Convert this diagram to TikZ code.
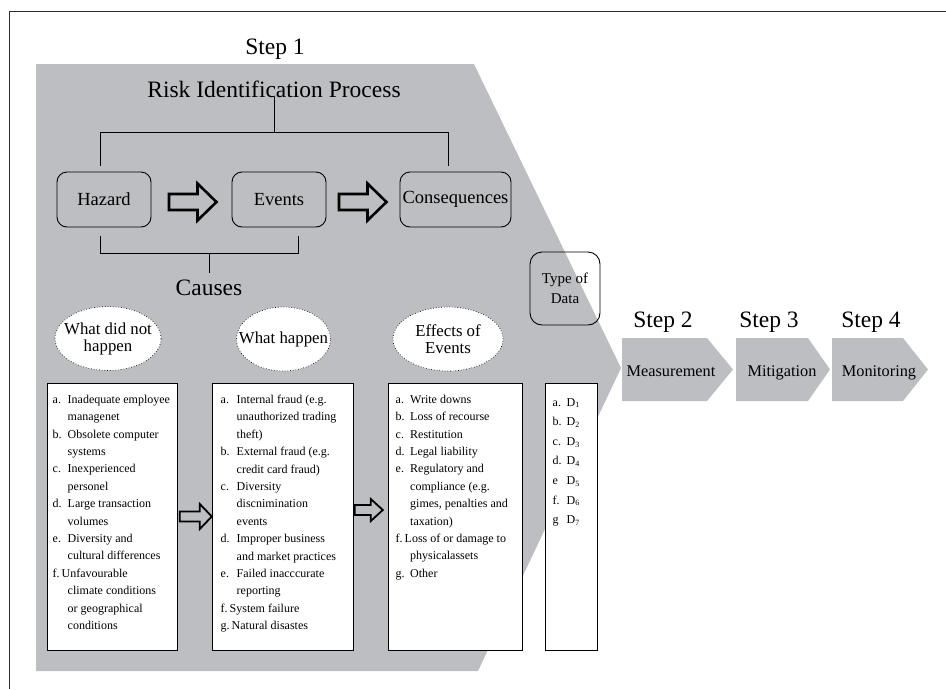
\documentclass[tikz,border=0pt]{standalone}
\usepackage{fontspec}
\setmainfont{Liberation Serif}
\usetikzlibrary{shapes.geometric,calc}
\definecolor{chevgray}{RGB}{188,190,193}
\definecolor{framegray}{RGB}{45,45,45}
\newcommand{\lab}[2]{\makebox[#1][l]{#2}}
\newcommand{\ind}[1]{\hspace*{#1}}
\begin{document}
\begin{tikzpicture}[x=1pt,y=-1pt,
  big/.style={font=\fontsize{23.5}{28}\selectfont, inner sep=0pt},
  rbox/.style={draw, rounded corners=10pt, line width=0.9pt, minimum width=94pt, minimum height=55pt, inner sep=0pt, font=\fontsize{18.5}{22}\selectfont},
  ell/.style={ellipse, draw, dotted, line width=0.7pt, fill=white, minimum width=#1, minimum height=64pt, inner sep=0pt},
  elltext/.style={align=center, inner sep=0pt, font=\fontsize{16.8}{17}\selectfont},
  lbox/.style={draw, line width=0.8pt, fill=white, anchor=north west, inner sep=0pt, minimum height=267pt},
  ltext/.style={align=left, anchor=north west, inner sep=0pt, font=\fontsize{12}{17.4}\selectfont},
  conn/.style={draw, line width=0.9pt},
  bigarr/.style={draw, line width=2.6pt, line join=miter},
  sarr/.style={draw, line width=1.8pt, line join=miter},
  steplab/.style={font=\fontsize{16.3}{20}\selectfont, inner sep=0pt, anchor=base}
]
\useasboundingbox (0,0) rectangle (946,689);
% main chevron (step 1)
\fill[chevgray] (36,64) -- (474,64) -- (621,368) -- (478,671) -- (36,671) -- cycle;
% frame
\draw[framegray, line width=0.8pt] (946,11) -- (9,11) -- (9,689);
% step 2-4 chevrons
\fill[chevgray] (622,338) -- (707,338) -- (733,369.5) -- (707,401) -- (622,401) -- cycle;
\fill[chevgray] (736,338) -- (808,338) -- (830,369.5) -- (808,401) -- (736,401) -- cycle;
\fill[chevgray] (832,338) -- (903,338) -- (928,369.5) -- (903,401) -- (832,401) -- cycle;

% titles
\node[big, anchor=base] (step1) at (275,54) {Step 1};
\node[big, anchor=base] (title) at (274,97) {Risk Identification Process};
\node[big, anchor=base] (step2) at (663,327) {Step 2};
\node[big, anchor=base] (step3) at (769,327) {Step 3};
\node[big, anchor=base] (step4) at (871,327) {Step 4};
\node[steplab] (meas) at (671,376) {Measurement};
\node[steplab] (miti) at (782,376) {Mitigation};
\node[steplab] (moni) at (879,376) {Monitoring};

% process boxes
\node[rbox] (hazard) at (104,199.5) {Hazard};
\node[rbox] (events) at (279,199.5) {Events};
\node[rbox, minimum width=111pt] (cons) at (455.5,199.5) {Consequences};

% tree above
\coordinate (brk) at (276,132);
\coordinate (hz) at ([xshift=-4pt,yshift=6pt]hazard.north);
\coordinate (cs) at ([xshift=-7.5pt,yshift=6pt]cons.north);
\draw[conn] (title.south) -- (title.south |- brk);
\draw[conn] (hz) -- (hz |- brk) -- (cs |- brk) -- (cs);

% causes bracket
\node[big, anchor=base] (causes) at (209,295) {Causes};
\coordinate (hzb) at ([xshift=-4pt,yshift=-9pt]hazard.south);
\coordinate (evb) at ([xshift=19pt,yshift=-9pt]events.south);
\coordinate (cbr) at (causes.north |- 0,253);
\draw[conn] (hzb) -- (hzb |- cbr) -- (evb |- cbr) -- (evb);
\draw[conn] (cbr) -- ([yshift=6pt]causes.north);

% big block arrows
\coordinate (ar1) at ($(hazard.east)+(17.5,2.5)$);
\draw[bigarr] (ar1) ++(0,-8) -- ++(28.5,0) -- ++(0,-10.5) -- ++(19,18.5) -- ++(-19,18.5) -- ++(0,-10.5) -- ++(-28.5,0) -- cycle;
\coordinate (ar2) at ($(events.east)+(12.5,2.5)$);
\draw[bigarr] (ar2) ++(0,-8) -- ++(28.5,0) -- ++(0,-10.5) -- ++(19,18.5) -- ++(-19,18.5) -- ++(0,-10.5) -- ++(-28.5,0) -- cycle;

% ellipses
\node[ell=106pt] (e1) at (108,338.5) {};
\node[elltext] (e1t) at (e1.center) {What did not\\happen};
\node[ell=94pt] (e2) at (283.5,339) {};
\node[elltext] (e2t) at (e2.center) {What happen};
\node[ell=110pt] (e3) at (448,339) {};
\node[elltext] (e3t) at (e3.center) {Effects of\\Events};

% type of data
\node[draw, line width=0.9pt, rounded corners=12pt, minimum width=70pt, minimum height=73pt, inner sep=0pt, align=center, font=\fontsize{15}{20}\selectfont] (tod) at (565,288.5) {Type of\\Data};

% list boxes
\node[lbox, minimum width=130pt] (b1) at (47,383) {};
\node[lbox, minimum width=141pt] (b2) at (212,383) {};
\node[lbox, minimum width=134pt] (b3) at (388,383) {};
\node[lbox, minimum width=52pt] (b4) at (545,383) {};

\node[ltext] (b1t) at (52.5,394.8) {%
\lab{15pt}{a.}Inadequate employee\\
\ind{15pt}managenet\\
\lab{15pt}{b.}Obsolete computer\\
\ind{15pt}systems\\
\lab{15pt}{c.}Inexperienced\\
\ind{15pt}personel\\
\lab{15pt}{d.}Large transaction\\
\ind{15pt}volumes\\
\lab{15pt}{e.}Diversity and\\
\ind{15pt}cultural differences\\
\lab{9pt}{f.}Unfavourable\\
\ind{15pt}climate conditions\\
\ind{15pt}or geographical\\
\ind{15pt}conditions};

\node[ltext] (b2t) at (220.5,394.8) {%
\lab{16pt}{a.}Internal fraud (e.g.\\
\ind{16pt}unauthorized trading\\
\ind{16pt}theft)\\
\lab{16pt}{b.}External fraud (e.g.\\
\ind{16pt}credit card fraud)\\
\lab{16pt}{c.}Diversity\\
\ind{16pt}discnimination\\
\ind{16pt}events\\
\lab{16pt}{d.}Improper business\\
\ind{16pt}and market practices\\
\lab{16pt}{e.}Failed inacccurate\\
\ind{16pt}reporting\\
\lab{9pt}{f.}System failure\\
\lab{11pt}{g.}Natural disastes};

\node[ltext] (b3t) at (395.5,394.8) {%
\lab{14.5pt}{a.}Write downs\\
\lab{14.5pt}{b.}Loss of recourse\\
\lab{14.5pt}{c.}Restitution\\
\lab{14.5pt}{d.}Legal liability\\
\lab{14.5pt}{e.}Regulatory and\\
\ind{14.5pt}compliance (e.g.\\
\ind{14.5pt}gimes, penalties and\\
\ind{14.5pt}taxation)\\
\lab{9pt}{f.}Loss of or damage to\\
\ind{14.5pt}physicalassets\\
\lab{14.5pt}{g.}Other};

\node[ltext, font=\fontsize{12}{19.6}\selectfont] (b4t) at (552.5,398) {%
\lab{14pt}{a.}D\textsubscript{1}\\
\lab{14pt}{b.}D\textsubscript{2}\\
\lab{14pt}{c.}D\textsubscript{3}\\
\lab{14pt}{d.}D\textsubscript{4}\\
\lab{14pt}{e}D\textsubscript{5}\\
\lab{14pt}{f.}D\textsubscript{6}\\
\lab{14pt}{g}D\textsubscript{7}};

% small block arrows between lists
\coordinate (sa1) at ($(b1.east |- 0,516.5)+(2,0)$);
\draw[sarr] (sa1) ++(0,-5) -- ++(20,0) -- ++(0,-7.5) -- ++(12,12.5) -- ++(-12,12.5) -- ++(0,-7.5) -- ++(-20,0) -- cycle;
\coordinate (sa2) at ($(b2.east |- 0,510)+(1,0)$);
\draw[sarr] (sa2) ++(0,-5) -- ++(16,0) -- ++(0,-6) -- ++(12,11) -- ++(-12,11) -- ++(0,-6) -- ++(-16,0) -- cycle;
\end{tikzpicture}
\end{document}
